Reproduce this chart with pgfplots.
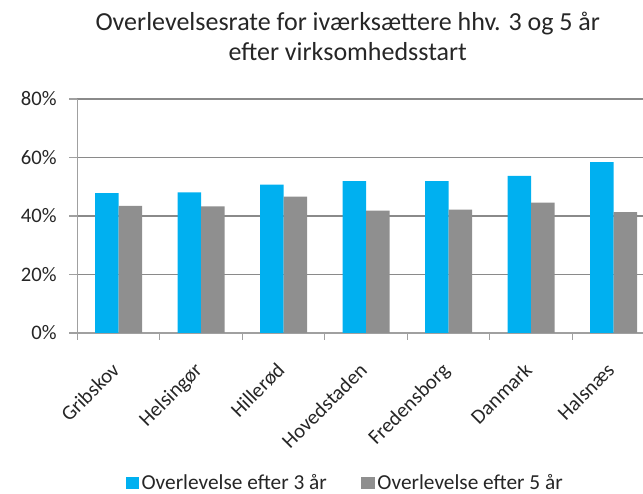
\documentclass[border=0pt]{standalone}
\usepackage{fontspec}
\setmainfont{Carlito}
\usepackage{pgfplots}
\pgfplotsset{compat=1.18}
\definecolor{blaa}{HTML}{00B0F0}
\definecolor{graa}{HTML}{8F8F8F}
\definecolor{gridc}{HTML}{8A8A8A}
\definecolor{axisc}{HTML}{A0A0A0}
\definecolor{tekst}{HTML}{262626}

\begin{document}
\begin{tikzpicture}
\begin{axis}[
  scale only axis,
  width=424.3pt, height=175.5pt,
  xmin=-0.5, xmax=6.357, ymin=0, ymax=80,
  ybar=0pt, bar width=17.6pt,
  axis x line=bottom, axis y line=left,
  axis line style={draw=axisc, line width=0.8pt, -},
  xtick={0,...,6},
  xticklabels={Gribskov,Helsingør,Hillerød,Hovedstaden,Fredensborg,Danmark,Halsnæs},
  major x tick style={draw=none},
  minor xtick={-0.5,0.5,...,5.5},
  minor x tick style={draw=axisc, line width=0.8pt},
  minor tick length=5pt,
  xticklabel style={xshift=-6pt, yshift=-15pt, rotate=45, anchor=north east, inner sep=0pt,
    font=\fontsize{15.5}{18}\selectfont, text=tekst},
  ytick={0,20,...,80},
  yticklabel={\pgfmathprintnumber{\tick}\%},
  yticklabel style={font=\fontsize{15.5}{18}\selectfont, text=tekst, xshift=-6pt},
  major y tick style={draw=axisc, line width=0.8pt},
  major tick length=6pt,
  tick align=outside,
  /pgf/number format/assume math mode=true,
  ymajorgrids, grid style={draw=gridc, line width=0.8pt},
  title={Overlevelsesrate for iværksættere hhv. 3 og 5 år\\efter virksomhedsstart},
  title style={align=center, font=\fontsize{19.5}{23}\selectfont, text=tekst, at={(0.478,1)}, anchor=south, yshift=19pt},
  legend style={at={(0.474,-0.641)}, anchor=center, draw=none, font=\fontsize{16}{19}\selectfont, text=tekst,
    /tikz/every even column/.append style={column sep=24pt}},
  legend columns=2,
  legend image code/.code={\fill[#1] (0pt,-4.8pt) rectangle (10pt,4.8pt);},
]
\addplot[fill=blaa, draw=none] coordinates
  {(0,47.8) (1,48.1) (2,50.7) (3,51.9) (4,51.9) (5,53.7) (6,58.4)};
\addlegendentry{Overlevelse efter 3 år}
\addplot[fill=graa, draw=none] coordinates
  {(0,43.5) (1,43.3) (2,46.6) (3,41.8) (4,42.2) (5,44.6) (6,41.3)};
\addlegendentry{Overlevelse efter 5 år}
\end{axis}
\pgfresetboundingbox
\useasboundingbox (-57.98pt,-120.75pt) rectangle (424.28pt,249.75pt);
\end{tikzpicture}
\end{document}
